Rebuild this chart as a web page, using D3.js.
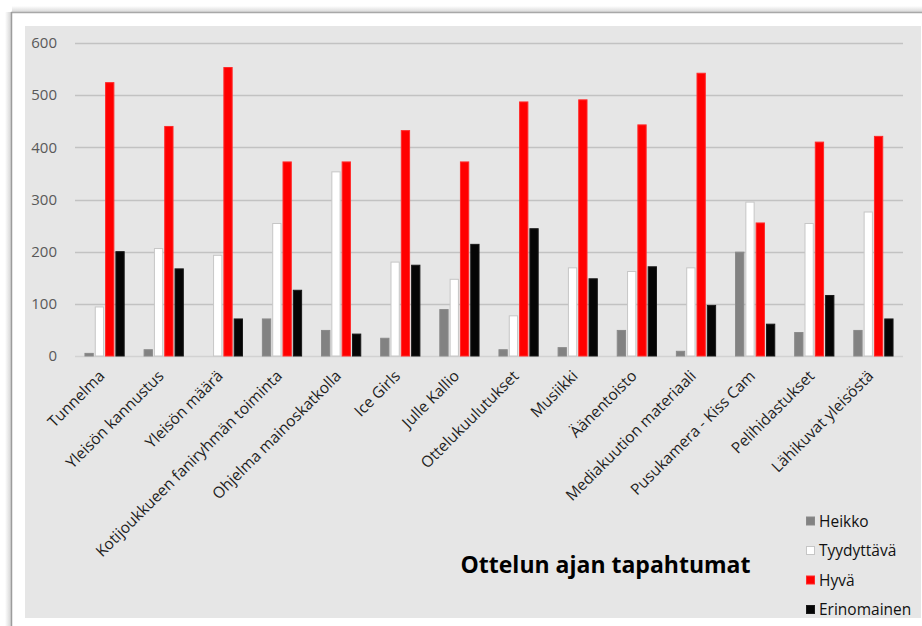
<!DOCTYPE html>
<html>
<head>
<meta charset="utf-8">
<script src="https://cdn.jsdelivr.net/npm/d3@7"></script>
<style>
  html, body { margin: 0; padding: 0; background: #fff; }
  svg { display: block; }
  text { font-family: "Open Sans", "DejaVu Sans", sans-serif; }
</style>
</head>
<body>
<svg id="chart" width="922" height="626"></svg>
<script>
// Survey answers per event during the game, counted by rating
const categories = [
  "Tunnelma", "Yleisön kannustus", "Yleisön määrä", "Kotijoukkueen faniryhmän toiminta",
  "Ohjelma mainoskatkolla", "Ice Girls", "Julle Kallio", "Ottelukuulutukset",
  "Musiikki", "Äänentoisto", "Mediakuution materiaali", "Pusukamera - Kiss Cam",
  "Pelihidastukset", "Lähikuvat yleisöstä"
];
const seriesNames = ["Heikko", "Tyydyttävä", "Hyvä", "Erinomainen"];
const heikko      = [5, 12, 0, 71, 49, 34, 89, 12, 16, 49, 9, 199, 45, 49];
const tyydyttava  = [94, 206, 193, 254, 353, 180, 147, 77, 169, 162, 169, 295, 254, 276];
const hyva        = [524, 440, 553, 372, 372, 432, 372, 487, 491, 443, 542, 255, 410, 421];
const erinomainen = [200, 167, 71, 126, 42, 174, 214, 244, 148, 171, 97, 61, 116, 71];
const yTicks = [0, 100, 200, 300, 400, 500, 600];
const chartTitle = "Ottelun ajan tapahtumat";

const seriesValues = [heikko, tyydyttava, hyva, erinomainen];
const fills   = ["#828282", "#ffffff", "#ff0000", "#050505"];
const strokes = ["#8a8a8a", "#c6c6c6", "#ff2a2a", "#1a1a1a"];

const svg = d3.select("#chart");

// Page frame with soft shadow
const defs = svg.append("defs");
const gTop = defs.append("linearGradient").attr("id", "shTop").attr("x1", 0).attr("y1", 0).attr("x2", 0).attr("y2", 1);
gTop.append("stop").attr("offset", "0%").attr("stop-color", "#fff");
gTop.append("stop").attr("offset", "100%").attr("stop-color", "#d8d8d8");
const gLeft = defs.append("linearGradient").attr("id", "shLeft").attr("x1", 0).attr("y1", 0).attr("x2", 1).attr("y2", 0);
gLeft.append("stop").attr("offset", "0%").attr("stop-color", "#fff");
gLeft.append("stop").attr("offset", "100%").attr("stop-color", "#d4d4d4");

svg.append("rect").attr("x", 0).attr("y", 0).attr("width", 922).attr("height", 626).attr("fill", "#fff");
svg.append("rect").attr("x", 12).attr("y", 6).attr("width", 910).attr("height", 6).attr("fill", "url(#shTop)");
svg.append("rect").attr("x", 5).attr("y", 12).attr("width", 6).attr("height", 614).attr("fill", "url(#shLeft)");
svg.append("line").attr("x1", 11).attr("x2", 922).attr("y1", 12.5).attr("y2", 12.5)
  .attr("stroke", "#a8a8a8").attr("stroke-width", 1.5);
svg.append("line").attr("x1", 11.5).attr("x2", 11.5).attr("y1", 12).attr("y2", 626)
  .attr("stroke", "#9c9c9c").attr("stroke-width", 1.5);

// Chart area background
svg.append("rect").attr("x", 25).attr("y", 26).attr("width", 896).attr("height", 592).attr("fill", "#e6e6e6");

// Scales
const x0 = d3.scaleBand().domain(categories).range([75, 903]).paddingInner(0.32).paddingOuter(0.16);
const x1 = d3.scaleBand().domain(seriesNames).range([0, x0.bandwidth()]).paddingInner(0.1);
const y = d3.scaleLinear().domain([0, 600]).range([356, 43]);

// Gridlines
svg.append("g")
  .selectAll("line")
  .data(yTicks)
  .join("line")
  .attr("x1", 75).attr("x2", 903)
  .attr("y1", d => Math.round(y(d)) + 0.5).attr("y2", d => Math.round(y(d)) + 0.5)
  .attr("stroke", d => d === 0 ? "#d2d2d2" : "#c2c2c2")
  .attr("stroke-width", 1.6);

// Y axis labels
const yAxis = d3.axisLeft(y).tickValues(yTicks).tickSize(0).tickPadding(0);
const yg = svg.append("g").attr("transform", "translate(57,0)").call(yAxis);
yg.select(".domain").remove();
yg.selectAll("text")
  .attr("fill", "#595959")
  .style("font-size", "15px")
  .style("font-family", "'Open Sans', sans-serif");

// Bars
const groups = svg.append("g")
  .selectAll("g")
  .data(categories)
  .join("g")
  .attr("transform", d => `translate(${x0(d)},0)`);

groups.selectAll("rect")
  .data((d, i) => seriesNames.map((s, k) => ({ series: s, k, value: seriesValues[k][i] })))
  .join("rect")
  .filter(d => d.value > 0)
  .attr("x", d => x1(d.series) + 0.5)
  .attr("y", d => y(d.value))
  .attr("width", x1.bandwidth() - 1)
  .attr("height", d => y(0) - y(d.value))
  .attr("fill", d => fills[d.k])
  .attr("stroke", d => strokes[d.k])
  .attr("stroke-width", 1);

// X axis labels (rotated)
svg.append("g")
  .selectAll("text")
  .data(categories)
  .join("text")
  .attr("transform", d => `translate(${x0(d) + x0.bandwidth() / 2 + 1},377) rotate(-45)`)
  .attr("text-anchor", "end")
  .attr("fill", "#1e1e1e")
  .style("font-size", "15.5px")
  .text(d => d);

// Title
svg.append("text")
  .attr("x", 605.5).attr("y", 573)
  .attr("text-anchor", "middle")
  .attr("fill", "#000")
  .style("font-size", "23px")
  .style("font-weight", "bold")
  .text(chartTitle);

// Legend
const legend = svg.append("g")
  .selectAll("g")
  .data(seriesNames)
  .join("g")
  .attr("transform", (d, i) => `translate(806,${521.5 + i * 29.5})`);
legend.append("rect")
  .attr("x", 0.5).attr("y", -4.5).attr("width", 8).attr("height", 8)
  .attr("fill", (d, i) => fills[i])
  .attr("stroke", (d, i) => strokes[i]);
legend.append("text")
  .attr("x", 13).attr("y", 0).attr("dy", "0.35em")
  .attr("fill", "#111")
  .style("font-size", "15.5px")
  .text(d => d);
</script>
</body>
</html>
